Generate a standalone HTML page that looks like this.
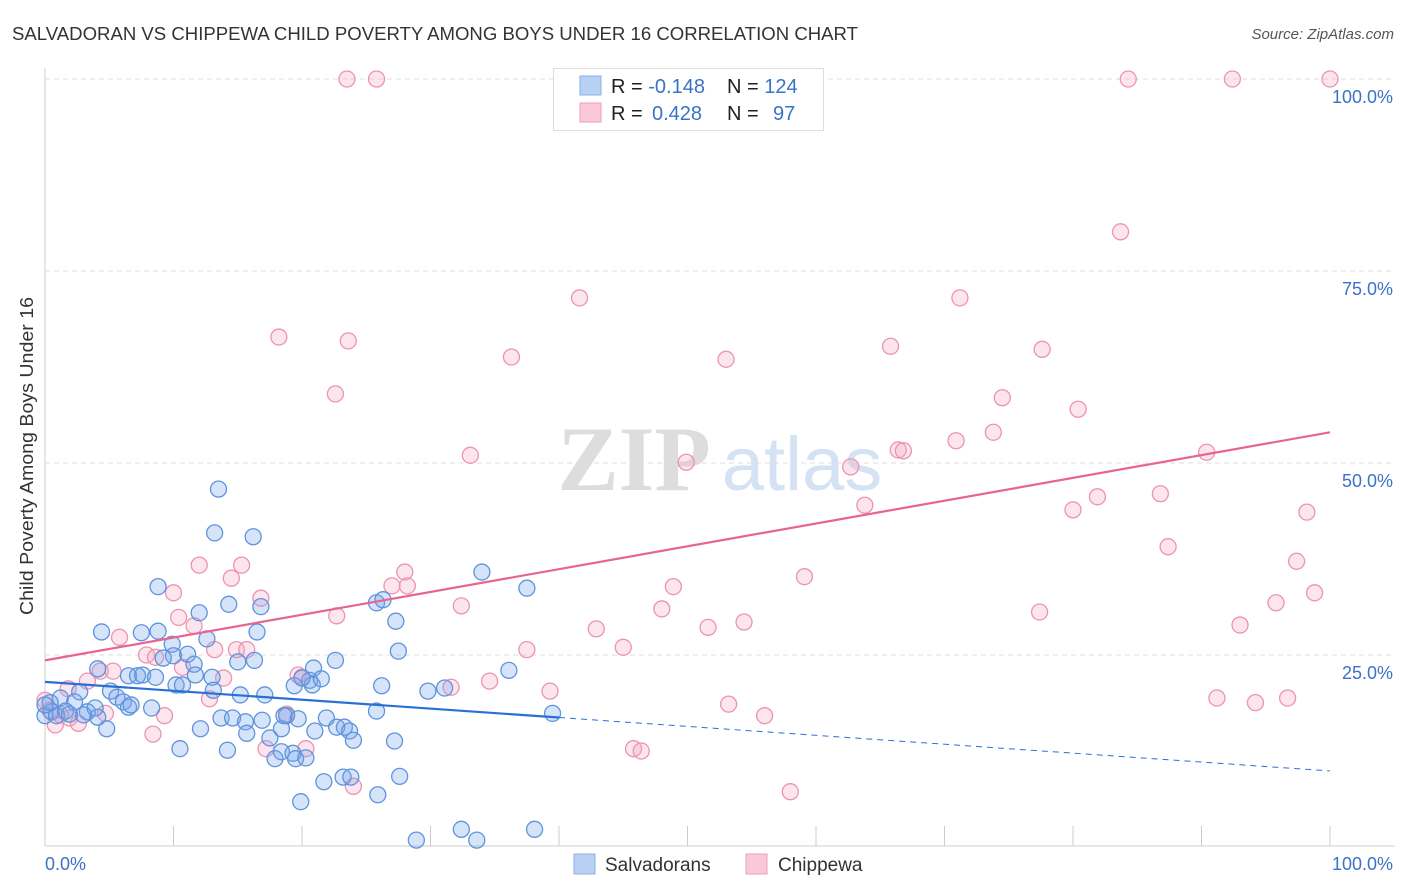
<!DOCTYPE html>
<html><head><meta charset="utf-8"><style>
body{margin:0;background:#fff;font-family:"Liberation Sans",sans-serif;}
svg{display:block}
</style></head><body>
<svg id="chart" width="1406" height="892">
<text x="12" y="40" font-size="18" fill="#333" textLength="846" lengthAdjust="spacingAndGlyphs">SALVADORAN VS CHIPPEWA CHILD POVERTY AMONG BOYS UNDER 16 CORRELATION CHART</text>
<text x="1394" y="39" font-size="15" fill="#555" text-anchor="end" font-style="italic">Source: ZipAtlas.com</text>
<g>
<text x="634" y="490" font-size="92" fill="#ddd" font-family="Liberation Serif,serif" text-anchor="middle" font-weight="bold">ZIP</text>
<text x="802" y="490" font-size="76" fill="#d4e2f4" text-anchor="middle">atlas</text>
</g>
<g id="grid"></g>
<g id="marks"></g>
<g>
<rect x="553.5" y="68.5" width="270" height="62" fill="#fff" stroke="#ddd"/>
<rect x="580" y="76" width="21" height="19" fill="#b7d0f4" stroke="#8ab0e8"/>
<rect x="580" y="103" width="21" height="19" fill="#fbc8d8" stroke="#f0a0bb"/>
<text x="611" y="93" font-size="20" fill="#222">R = <tspan fill="#3a72c8">-0.148</tspan><tspan x="727">N = </tspan><tspan fill="#3a72c8">124</tspan></text>
<text x="611" y="120" font-size="20" fill="#222">R = <tspan fill="#3a72c8" x="652">0.428</tspan><tspan x="727">N = </tspan><tspan fill="#3a72c8" x="773">97</tspan></text>
</g>
<g>
<rect x="574" y="854" width="21" height="20" fill="#b7d0f4" stroke="#8ab0e8"/>
<text x="605" y="871" font-size="19" fill="#333">Salvadorans</text>
<rect x="746" y="854" width="21" height="20" fill="#fbc8d8" stroke="#f0a0bb"/>
<text x="778" y="871" font-size="19" fill="#333">Chippewa</text>
</g>
<text x="33" y="456" font-size="18" fill="#333" text-anchor="middle" textLength="318" lengthAdjust="spacingAndGlyphs" transform="rotate(-90 33 456)">Child Poverty Among Boys Under 16</text>
<text x="45" y="870" font-size="18" fill="#3a72c8">0.0%</text>
<text x="1393" y="870" font-size="18" fill="#3a72c8" text-anchor="end">100.0%</text>
</svg>
<script>
const yTicks=[25,50,75,100];
const yTickLabels=["25.0%","50.0%","75.0%","100.0%"];
const xTicks=[0,10,20,30,40,50,60,70,80,90,100];
const blueX=[13.5,13.2,16.2,8.8,14.3,16.8,12.0,4.4,7.5,8.8,16.5,9.9,12.6,10.0,11.1,11.6,9.2,15.0,16.3,13.0,4.1,6.5,7.2,7.6,8.6,10.2,10.7,11.7,13.1,15.2,17.1,19.4,20.6,20.8,20.9,21.5,22.6,20.0,25.8,26.3,27.3,27.5,26.2,29.8,31.1,36.1,37.5,34.0,25.8,5.1,5.6,6.1,6.5,6.7,8.3,2.7,2.3,3.3,4.1,4.8,1.2,0.5,0,0.9,1.6,1.9,3.0,3.9,0.4,0,13.7,14.6,15.6,16.9,18.8,19.7,15.7,17.5,12.1,14.2,18.4,21.0,21.9,22.7,23.3,23.7,24.0,27.2,10.5,17.9,18.4,19.3,19.5,20.3,21.7,23.2,23.8,25.9,27.6,19.9,28.9,32.4,33.6,38.1,39.5,18.6];
const blueY=[46.6,40.9,40.4,33.9,31.6,31.3,30.5,28.0,27.9,28.1,28.0,26.4,27.1,24.9,25.1,23.8,24.6,24.1,24.3,22.1,23.2,22.3,22.3,22.4,22.1,21.1,21.1,22.4,20.4,19.8,19.8,21.0,21.7,21.1,23.3,21.9,24.3,22.0,31.8,32.2,29.4,25.5,21.0,20.3,20.7,23.0,33.7,35.8,17.7,20.3,19.5,18.9,18.2,18.5,18.1,20.2,18.9,17.6,16.9,15.4,19.4,17.6,17.1,17.1,17.7,17.3,17.2,18.1,18.8,18.5,16.8,16.8,16.3,16.5,17.1,16.7,14.8,14.2,15.4,12.6,15.4,15.1,16.8,15.6,15.6,15.1,13.9,13.8,12.8,11.5,12.4,12.2,11.5,11.6,8.5,9.1,9.1,6.8,9.2,5.9,0.9,2.3,0.9,2.3,17.4,17.1];
const pinkX=[23.5,25.8,84.3,92.4,100,83.7,41.6,71.2,18.2,23.6,36.3,53.0,65.8,77.6,22.6,74.5,80.4,33.1,49.9,66.4,66.8,70.9,73.8,90.4,62.7,63.8,81.9,86.8,80.0,98.2,87.4,97.4,12.0,15.3,14.5,28.0,28.2,27.0,59.1,48.9,16.8,10.0,32.4,95.8,98.8,10.4,22.7,48.0,77.4,11.6,54.4,51.6,42.9,93.0,5.8,13.2,14.9,15.7,7.9,8.6,45.0,37.5,4.3,5.3,10.7,13.9,19.7,20.0,34.6,31.6,39.3,1.8,3.3,91.2,94.2,96.7,53.2,56.0,12.8,18.8,9.3,0,0.8,1.9,2.6,4.7,45.8,46.4,17.2,20.3,8.4,24.0,58.0,0.4,1.2];
const pinkY=[100,100,100,100,100,80.1,71.5,71.5,66.4,65.9,63.8,63.5,65.2,64.8,59.0,58.5,57.0,51.0,50.1,51.7,51.6,52.9,54.0,51.4,49.5,44.5,45.6,46.0,43.9,43.6,39.1,37.2,36.7,36.7,35.0,35.8,34.0,34.0,35.2,33.9,32.4,33.1,31.4,31.8,33.1,29.9,30.1,31.0,30.6,28.8,29.3,28.6,28.4,28.9,27.3,25.7,25.7,25.7,25.0,24.7,26.0,25.7,22.9,22.9,23.4,22.0,22.4,22.1,21.6,20.8,20.3,20.6,21.6,19.4,18.8,19.4,18.6,17.1,19.3,17.3,17.1,19.1,15.9,16.8,16.1,17.4,12.8,12.5,12.8,12.8,14.7,7.9,7.2,17.8,17.2];
const blueTrend=[21.5,9.9]; const blueSolidEnd=40;
const pinkTrend=[24.3,54.0];

const NS="http://www.w3.org/2000/svg";
const X0=45,X1=1330,Y0=847,Y1=79;
const sx=v=>X0+(X1-X0)*v/100;
const sy=v=>Y0-(Y0-Y1)*v/100;
function mk(tag,attrs,parent){const e=document.createElementNS(NS,tag);for(const k in attrs)e.setAttribute(k,attrs[k]);parent.appendChild(e);return e;}
const grid=document.getElementById('grid'),marks=document.getElementById('marks');
yTicks.forEach((t,i)=>{
  const l=mk('line',{x1:X0,x2:1395,y1:sy(t),y2:sy(t),stroke:'#ddd','stroke-dasharray':'5,4'},grid);
  
  
  const tx=mk('text',{x:1393,y:sy(t)+24,'font-size':18,fill:'#3a72c8','text-anchor':'end'},grid);
  tx.textContent=yTickLabels[i];
  
  
});
const ya=mk('line',{x1:X0,x2:X0,y1:68,y2:846,stroke:'#ccc'},grid);


const xa=mk('line',{x1:X0,x2:1395,y1:846,y2:846,stroke:'#ccc'},grid);


xTicks.forEach(t=>{
  const l=mk('line',{x1:sx(t),x2:sx(t),y1:826,y2:846,stroke:'#ccc'},grid);
  
  
});
function dots(xs,ys,fill,stroke,name){
  xs.forEach((v,i)=>{
    const c=mk('circle',{cx:sx(v),cy:sy(ys[i]),r:8,fill:fill,stroke:stroke,'stroke-width':1.3},marks);
    
    
  });
}
dots(pinkX,pinkY,'rgba(246,170,196,0.3)','#ec93b2','chippewa-point');
dots(blueX,blueY,'rgba(120,165,235,0.3)','#5f93dd','salvadoran-point');
const by=x=>blueTrend[0]+(blueTrend[1]-blueTrend[0])*x/100;
const b1=mk('line',{x1:sx(0),y1:sy(by(0)),x2:sx(blueSolidEnd),y2:sy(by(blueSolidEnd)),stroke:'#2a6fd6','stroke-width':2.2},marks);


const b2=mk('line',{x1:sx(blueSolidEnd),y1:sy(by(blueSolidEnd)),x2:sx(100),y2:sy(by(100)),stroke:'#2a6fd6','stroke-width':1,'stroke-dasharray':'6,5'},marks);


const p1=mk('line',{x1:sx(0),y1:sy(pinkTrend[0]),x2:sx(100),y2:sy(pinkTrend[1]),stroke:'#e8648f','stroke-width':2.2},marks);


</script>
</body></html>
